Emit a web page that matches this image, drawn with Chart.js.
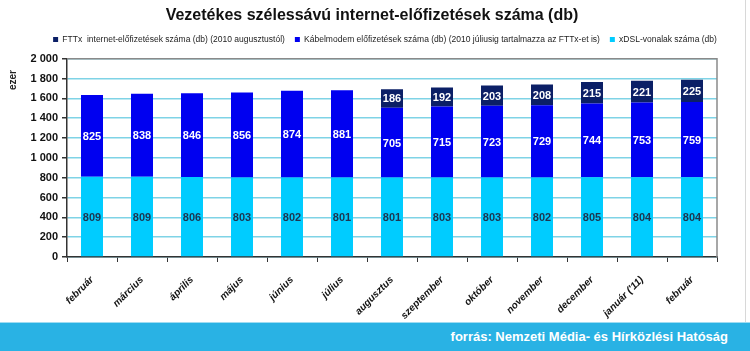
<!DOCTYPE html>
<html>
<head>
<meta charset="utf-8">
<script src="https://cdn.jsdelivr.net/npm/chart.js@4.4.1/dist/chart.umd.min.js"></script>
<style>
  html, body { margin: 0; padding: 0; background: #fff; }
  #wrap { width: 750px; height: 351px; position: relative; overflow: hidden; }
  #chart-box { width: 750px; height: 322px; position: relative; }
  .source {
    position: absolute; left: 0; top: 322px; width: 750px; height: 29px;
    background: #29b2e4; border-top: 1px solid #9fdcf2; box-sizing: border-box;
    color: #fff; font: bold 13px "Liberation Sans", Arial, sans-serif;
    text-align: right; padding-right: 22px; line-height: 27px;
  }
</style>
</head>
<body>
<div id="wrap">
  <div id="chart-box"><canvas id="myChart" width="750" height="322"></canvas></div>
  <div class="source">forrás: Nemzeti Média- és Hírközlési Hatóság</div>
</div>
<script>
const months = ['február', 'március', 'április', 'május', 'június', 'július', 'augusztus',
  'szeptember', 'október', 'november', 'december', "január ('11)", 'február']
const xdslValues = [809, 809, 806, 803, 802, 801, 801, 803, 803, 802, 805, 804, 804]
const cableValues = [825, 838, 846, 856, 874, 881, 705, 715, 723, 729, 744, 753, 759]
const fttxValues = [null, null, null, null, null, null, 186, 192, 203, 208, 215, 221, 225]
const yTicks = [0, 200, 400, 600, 800, 1000, 1200, 1400, 1600, 1800, 2000]

const FONT = '"Liberation Sans", Arial, sans-serif'

// value labels inside the bar segments, plot frame and the axis title
const barLabels = {
  id: 'barLabels',
  afterInit(chart){
    // a bit more room under the legend
    const fit = chart.legend.fit
    chart.legend.fit = function(){
      fit.call(this)
      this.height += 5
    }
  },
  afterLayout(chart){
    // legend sits a little right of centre in the original
    chart.legend.left = 40
    chart.legend.right = 730
  },
  afterDatasetsDraw(chart){
    const ctx = chart.ctx
    ctx.save()
    ctx.font = 'bold 11px ' + FONT
    ctx.textAlign = 'center'
    ctx.textBaseline = 'middle'
    chart.data.datasets.forEach((ds, i)=>{
      const meta = chart.getDatasetMeta(i)
      meta.data.forEach((bar, j)=>{
        const v = ds.data[j]
        if (v == null) return
        ctx.fillStyle = ds.labelColor
        ctx.fillText(v, bar.x, (bar.y + bar.base) / 2 + 1)
      })
    })
    ctx.restore()
  },
  afterDraw(chart){
    const ctx = chart.ctx
    const area = chart.chartArea
    ctx.save()
    ctx.strokeStyle = '#8a8a8a'
    ctx.lineWidth = 1.5
    ctx.beginPath()
    ctx.moveTo(area.left, area.top)
    ctx.lineTo(area.right, area.top)
    ctx.lineTo(area.right, area.bottom)
    ctx.stroke()
    ctx.strokeStyle = '#d8d8d8'
    ctx.lineWidth = 1
    ctx.beginPath()
    ctx.moveTo(745.5, 0)
    ctx.lineTo(745.5, chart.height)
    ctx.stroke()
    ctx.translate(13, 80)
    ctx.rotate(-Math.PI / 2)
    ctx.font = 'bold 10px ' + FONT
    ctx.fillStyle = '#222'
    ctx.textAlign = 'center'
    ctx.textBaseline = 'middle'
    ctx.fillText('ezer', 0, 0)
    ctx.restore()
  }
}

const ctx = document.getElementById('myChart').getContext('2d')
const chart = new Chart(ctx, {
  type: 'bar',
  data: {
    labels: months,
    datasets: [
      {
        label: 'xDSL-vonalak száma (db)',
        data: xdslValues,
        backgroundColor: '#00ccff',
        labelColor: '#1d3550'
      },{
        label: 'Kábelmodem előfizetések száma (db) (2010 júliusig tartalmazza az FTTx-et is)',
        data: cableValues,
        backgroundColor: '#0000f0',
        labelColor: '#ffffff'
      },{
        label: 'FTTx  internet-előfizetések száma (db) (2010 augusztustól)',
        data: fttxValues,
        backgroundColor: '#0b1f66',
        labelColor: '#ffffff'
      }
    ]
  },
  plugins: [barLabels],
  options: {
    responsive: false,
    animation: false,
    devicePixelRatio: 1,
    layout: { padding: { left: 27, right: 33, top: 0, bottom: 0 } },
    datasets: { bar: { categoryPercentage: 1, barPercentage: 0.44 } },
    plugins: {
      title: {
        display: true,
        text: 'Vezetékes szélessávú internet-előfizetések száma (db)',
        color: '#111',
        font: { family: FONT, size: 16, weight: 'bold' },
        padding: { top: 6, bottom: 0 }
      },
      legend: {
        reverse: true,
        labels: {
          boxWidth: 5,
          boxHeight: 5,
          padding: 10,
          color: '#222',
          font: { family: FONT, size: 8.5 }
        }
      },
      tooltip: { enabled: false }
    },
    scales: {
      x: {
        stacked: true,
        afterFit: (scale)=>{ scale.height = 65 },
        grid: { drawOnChartArea: false, color: '#333', tickLength: 5 },
        border: { color: '#333', width: 1.5 },
        ticks: {
          minRotation: 45, maxRotation: 45, padding: 12,
          color: '#111',
          font: { family: FONT, size: 10, weight: 'bold', style: 'italic' }
        }
      },
      y: {
        stacked: true,
        min: 0,
        max: 2000,
        afterFit: (scale)=>{ scale.width = 40 },
        afterBuildTicks: (scale)=>{ scale.ticks = yTicks.map(v=>({ value: v })) },
        grid: { color: '#7fd3e6', lineWidth: 1.5, tickColor: '#333', tickLength: 5 },
        border: { color: '#333', width: 1.5 },
        ticks: {
          padding: 4,
          color: '#111',
          font: { family: FONT, size: 11, weight: 'bold' },
          callback: (v)=>v.toLocaleString('en-US').replace(',', ' ')
        }
      }
    }
  }
})
</script>
</body>
</html>
